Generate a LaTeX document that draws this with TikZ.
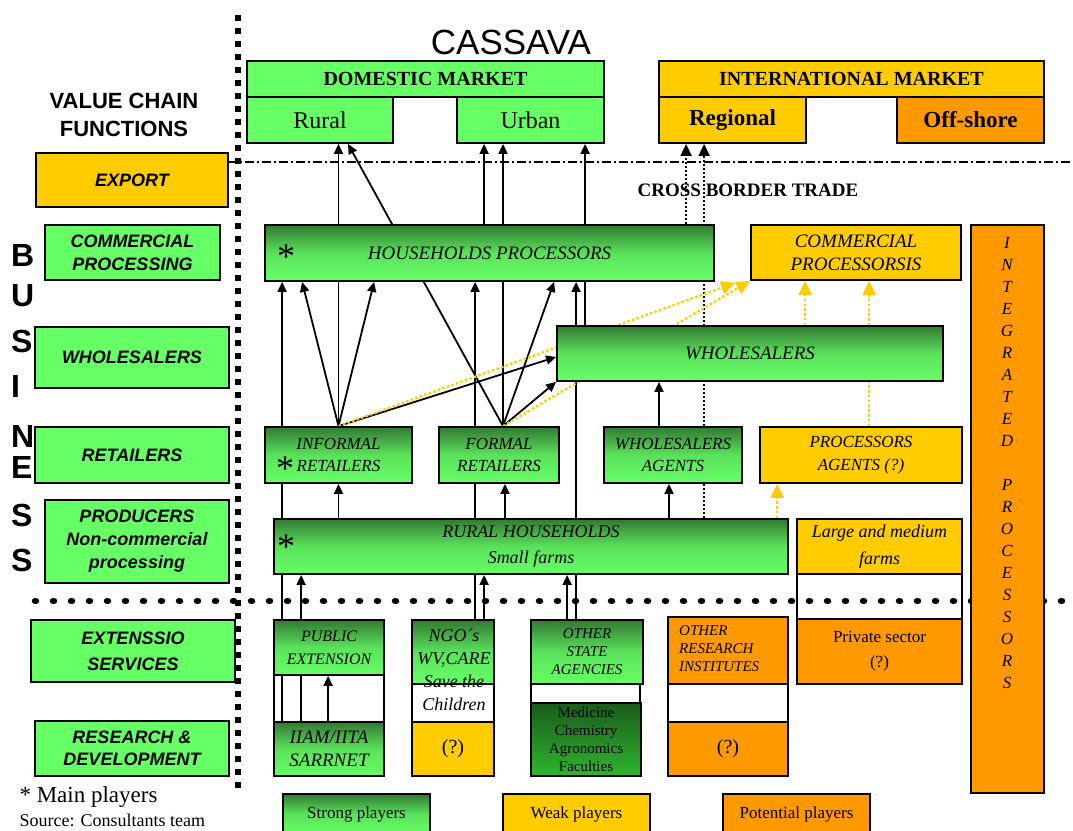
\documentclass[tikz,border=0pt]{standalone}
\usepackage{fontspec}
\setmainfont{Liberation Serif}
\setsansfont{Liberation Sans}
\usetikzlibrary{arrows.meta}
\definecolor{lgreen}{RGB}{102,255,102}
\definecolor{dgreen}{RGB}{50,122,50}
\definecolor{fdark}{RGB}{25,92,25}
\definecolor{fmid}{RGB}{48,182,48}
\definecolor{cyellow}{RGB}{255,204,0}
\definecolor{corange}{RGB}{255,153,0}
\pgfdeclarelayer{bg}
\pgfsetlayers{bg,main}
\newcommand{\fsz}[2]{\fontsize{#1}{#2}\selectfont}
% box from its corners: name, x1, y1, x2, y2, style, text
\newcommand{\bx}[7]{%
  \node[#6, minimum width={(#4)-(#2)}, minimum height={(#5)-(#3)}] (#1)
    at ({((#2)+(#4))/2},{((#3)+(#5))/2}) {#7};}
\tikzset{
  base/.style={draw=black, line width=1.8pt, inner sep=0pt, align=center, text=black},
  gbox/.style={base, top color=dgreen, bottom color=lgreen, middle color=lgreen!78!dgreen},
  fgbox/.style={base, top color=fdark, bottom color=fmid},
  flatg/.style={base, fill=lgreen},
  ybox/.style={base, fill=cyellow},
  obox/.style={base, fill=corange},
  wbox/.style={base},
  lbl/.style={font=\sffamily\bfseries\itshape\fsz{18}{23}},
  bigit/.style={font=\itshape\fsz{19}{23}},
  midit/.style={font=\itshape\fsz{17}{22}},
  smlit/.style={font=\itshape\fsz{15}{18}},
  star/.style={font=\fsz{36}{36}, inner sep=0pt},
  arr/.style={-{Triangle[length=10pt,width=9pt]}, line width=1.8pt},
  darr/.style={-{Triangle[length=12pt,width=11pt]}, line width=1.8pt, dash pattern=on 2pt off 2pt},
  yarr/.style={-{Triangle[length=14pt,width=13pt]}, draw=cyellow, fill=cyellow, line width=2.4pt, dash pattern=on 2.4pt off 2.4pt},
}
\begin{document}
\begin{tikzpicture}[x=1pt,y=-1pt]
\useasboundingbox (0,0) rectangle (1073,830);

% titles
\node (title) at (511,42) {\sffamily\fsz{35}{35}CASSAVA};
\node[align=center, font=\sffamily\bfseries\fsz{22}{28}] (vcf) at (124,115) {VALUE CHAIN\\FUNCTIONS};
\foreach \ch/\y [count=\i] in {B/255,U/296,S/341,I/386,N/436,E/467,S/515,S/560}
  \node[anchor=west, inner sep=0pt, font=\sffamily\bfseries\fsz{32}{32}] (bus\i) at (11,\y) {\ch};

% value chain functions
\bx{lexp}{36}{153}{228}{207}{ybox,lbl}{EXPORT}
\bx{lcp}{45}{225}{220}{280}{flatg,lbl}{COMMERCIAL\\PROCESSING}
\bx{lws}{35}{327}{229}{388}{flatg,lbl}{WHOLESALERS}
\bx{lret}{35}{427}{229}{483}{flatg,lbl}{RETAILERS}
\bx{lprod}{45}{500}{229}{583}{flatg,lbl}{PRODUCERS\\Non-commercial\\processing}
\bx{lext}{31}{620}{235}{682}{flatg,lbl,font=\sffamily\bfseries\itshape\fsz{18}{26}}{EXTENSSIO\\SERVICES}
\bx{lrd}{35}{721}{229}{776}{flatg,lbl,font=\sffamily\bfseries\itshape\fsz{18}{22}}{RESEARCH \&\\DEVELOPMENT}
\node[anchor=west] (mainp) at (16,797) {\fsz{23}{23}* Main players};
\node[anchor=west] (src) at (16,820) {\fsz{18}{18}Source: Consultants team};

% markets
\bx{dom}{247}{61}{604}{97}{flatg,font=\bfseries\fsz{20}{20}}{DOMESTIC MARKET}
\bx{rur}{247}{97}{393}{143}{flatg,font=\fsz{24}{24}}{Rural}
\bx{urb}{457}{97}{604}{143}{flatg,font=\fsz{24}{24}}{Urban}
\bx{intl}{659}{61}{1044}{97}{ybox,font=\bfseries\fsz{20}{20}}{INTERNATIONAL MARKET}
\bx{reg}{659}{97}{806}{143}{ybox,font=\bfseries\fsz{23}{23}}{Regional}
\bx{off}{897}{97}{1044}{143}{obox,font=\bfseries\fsz{23}{23}}{Off-shore}
\node (cbt) at (748,190) {\bfseries\fsz{19}{19}CROSS BORDER TRADE};

% business players
\bx{hp}{265}{225}{714}{281}{gbox,bigit}{HOUSEHOLDS PROCESSORS}
\node[star] (hpst) at (286,257) {*};
\bx{cpr}{751}{225}{961}{280}{ybox,bigit}{COMMERCIAL\\PROCESSORSIS}
\bx{ipr}{971}{225}{1044}{793}{obox}{}
\foreach \ch [count=\i from 0] in {I,N,T,E,G,R,A,T,E,D}
  \node[font=\itshape\fsz{17}{17}] (ipa\i) at (1007,{243+22*\i}) {\ch};
\foreach \ch [count=\i from 0] in {P,R,O,C,E,S,S,O,R,S}
  \node[font=\itshape\fsz{17}{17}] (ipb\i) at (1007,{485+22*\i}) {\ch};
\bx{ws}{557}{326}{943}{381}{gbox,bigit}{WHOLESALERS}
\bx{ir}{265}{427}{412}{483}{gbox,midit}{INFORMAL\\RETAILERS}
\node[star] (irst) at (285,469) {*};
\bx{fr}{439}{427}{559}{483}{gbox,midit}{FORMAL\\RETAILERS}
\bx{wa}{604}{427}{742}{483}{gbox,midit}{WHOLESALERS\\AGENTS}
\bx{pa}{760}{427}{962}{483}{ybox,midit,font=\itshape\fsz{17}{23}}{PROCESSORS\\AGENTS (?)}
\bx{rhh}{274}{519}{788}{574}{gbox,font=\itshape\fsz{18}{26}}{RURAL HOUSEHOLDS\\Small farms}
\node[star] (rhhst) at (286,547) {*};
\bx{lmf}{797}{519}{962}{574}{ybox,font=\itshape\fsz{18}{27}}{Large and medium\\farms}
\bx{lmfw}{797}{574}{962}{619}{wbox}{}
\bx{priv}{797}{619}{962}{684}{obox,font=\fsz{17}{25}}{Private sector\\(?)}

% extension and research
\bx{pe}{274}{620}{384}{675}{gbox,font=\itshape\fsz{16}{23}}{PUBLIC\\EXTENSION}
\bx{pew}{274}{675}{384}{722}{wbox}{}
\bx{iiam}{274}{722}{384}{776}{gbox,font=\itshape\fsz{19}{23}}{IIAM/IITA\\SARRNET}
\bx{ngo}{412}{620}{494}{684}{gbox}{}
\bx{ngow}{412}{684}{494}{722}{wbox}{}
\bx{ngoq}{412}{722}{494}{776}{ybox,font=\fsz{20}{20}}{(?)}
\node[align=center, font=\itshape\fsz{18}{23}] (ngot) at (454,670) {NGO´s\\WV,CARE\\Save the\\Children};
\bx{osa}{531}{620}{643}{684}{gbox,smlit}{OTHER\\STATE\\AGENCIES}
\bx{osaw}{531}{684}{640}{703}{wbox}{}
\bx{fac}{531}{703}{641}{776}{fgbox,font=\fsz{15}{18}}{Medicine\\Chemistry\\Agronomics\\Faculties}
\bx{ori}{668}{617}{788}{684}{obox}{}
\node[anchor=west, align=left, inner sep=0pt, font=\itshape\fsz{15}{18}] (orit) at (679,649) {OTHER\\RESEARCH\\INSTITUTES};
\bx{oriw}{668}{684}{788}{722}{wbox}{}
\bx{oriq}{668}{722}{788}{776}{obox,font=\fsz{20}{20}}{(?)}

% legend
\bx{lgs}{283}{794}{430}{834}{gbox,font=\fsz{17}{17}}{Strong players}
\bx{lgw}{503}{794}{650}{834}{ybox,font=\fsz{17}{17}}{Weak players}
\bx{lgp}{723}{794}{870}{834}{obox,font=\fsz{17}{17}}{Potential players}

\begin{pgfonlayer}{bg}
% separators
\draw[line width=5.5pt, dash pattern=on 5.5pt off 7.5pt] (238,15) -- (238,793);
\draw[line width=1.5pt, dash pattern=on 9pt off 3pt on 2pt off 3pt] (228,162) -- (1073,162);
\draw[line width=6.5pt, line cap=round, dash pattern=on 1pt off 17pt] (35,601) -- (1073,601);
% research and extension
\draw[arr] ([xshift=9pt]iiam.north west) -- ([xshift=18pt]hp.south west);
\draw[arr] ([xshift=28pt]iiam.north west) -- ([xshift=28pt]iiam.north west |- rhh.south);
\draw[arr] ([xshift=55pt]iiam.north west) -- ([xshift=55pt]pe.south west);
\draw[arr] ([xshift=64pt]ngo.north west) -- ([xshift=64pt]ngo.north west |- hp.south);
\draw[arr] ([xshift=73pt]ngo.north west) -- ([xshift=73pt]ngo.north west |- rhh.south);
\draw[arr] ([xshift=37pt]osa.north west) -- ([xshift=37pt]osa.north west |- rhh.south);
\draw[arr] ([xshift=46pt]osa.north west) -- ([xshift=46pt]osa.north west |- hp.south);
% producers
\draw[arr] (ir.south |- rhh.north) -- (ir.south);
\draw[arr] ([xshift=6pt]fr.south |- rhh.north) -- ([xshift=6pt]fr.south);
\draw[arr] ([xshift=-4pt]wa.south |- rhh.north) -- ([xshift=-4pt]wa.south);
\draw[arr] ([xshift=-14pt]wa.north) -- ([xshift=-14pt]wa.north |- ws.south);
% retailers
\coordinate (frtop) at ([xshift=4pt]fr.north);
\draw[arr] (ir.north) -- (ir.north |- rur.south);
\draw[arr] (ir.north) -- ([xshift=38pt]hp.south west);
\draw[arr] (ir.north) -- ([xshift=110pt]hp.south west);
\draw[arr] (ir.north) -- ([yshift=-3.5pt]ws.west);
\draw[arr] (frtop) -- (frtop |- urb.south);
\draw[arr] (frtop) -- ([xshift=28pt]rur.south);
\draw[arr] (frtop) -- ([xshift=290pt]hp.south west);
\draw[arr] (frtop) -- (ws.south west);
% processors and wholesalers
\draw[arr] ([xshift=28pt]urb.south west |- hp.north) -- ([xshift=28pt]urb.south west);
\draw[arr] ([xshift=29pt]ws.north west) -- ([xshift=29pt]ws.north west |- urb.south);
% cross border trade
\draw[darr] ([xshift=28pt]reg.south west |- hp.north) -- ([xshift=28pt]reg.south west);
\draw[darr] ([xshift=46pt]reg.south west |- rhh.north) -- ([xshift=46pt]reg.south west);
% weak links
\draw[yarr] (ir.north) -- ([xshift=-15pt,yshift=-2pt]cpr.south west);
\draw[yarr] (frtop) -- (cpr.south west);
\draw[yarr] ([xshift=55pt]cpr.south west |- ws.north) -- ([xshift=55pt]cpr.south west);
\draw[yarr] ([xshift=119pt]cpr.south west |- pa.north) -- ([xshift=119pt]cpr.south west);
\draw[yarr] ([xshift=18pt]pa.south west |- rhh.north) -- ([xshift=18pt]pa.south west);
\end{pgfonlayer}
\end{tikzpicture}
\end{document}
